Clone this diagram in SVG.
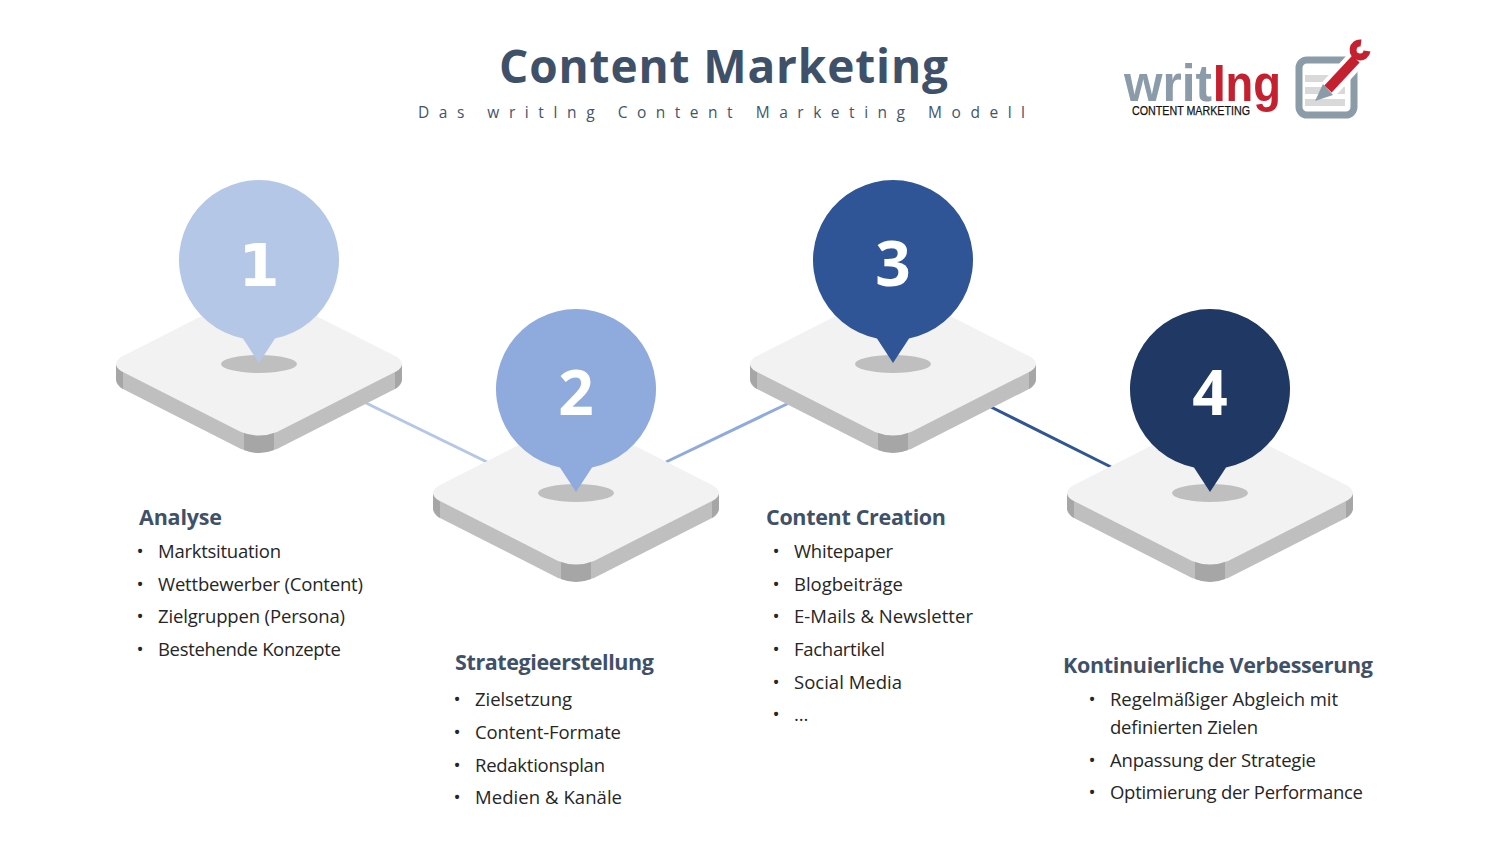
<svg xmlns="http://www.w3.org/2000/svg" width="1500" height="848" viewBox="0 0 1500 848">
<style>
text{font-family:"Open Sans","Noto Sans","DejaVu Sans",sans-serif}
.t{font-size:46px;font-weight:700;fill:#3f5169}
.s{font-size:15.5px;fill:#44546a}
.h{font-size:21.5px;font-weight:700;fill:#3f5169}
.i{font-size:18.5px;fill:#262626}
.b{font-size:19px;fill:#262626;text-anchor:middle}
.n{font-size:62px;font-weight:700;fill:#fff;text-anchor:middle}
.one{font-family:"DejaVu Sans",sans-serif;font-size:59px}
.top{fill:#f2f2f2}.side{fill:#bfbfbf}.corner{fill:#a6a6a6}.spot{fill:#bfbfbf}
.logo{font-family:"Liberation Sans",Arial,sans-serif;font-weight:700}
.logo2{font-family:"Liberation Sans",Arial,sans-serif;font-weight:400;font-size:12.5px;fill:#111;stroke:#111;stroke-width:.25px}
</style>
<defs>
<g id="plate">
<path class="side" d="M-143,0V15Q-143,20 -138,24L-18,85Q0,92 18,85L138,24Q143,20 143,15V0Z"/>
<path class="corner" d="M-143,0V15Q-143,20 -136,25V8ZM143,0V15Q143,20 136,25V8ZM-15,60V86Q0,92 15,86V60Z"/>
<path class="top" d="M-138,-7L-18,-68Q0,-75 18,-68L138,-7Q148,0 138,7L18,68Q0,75 -18,68L-138,7Q-148,0 -138,-7Z"/>
<ellipse class="spot" cx="0" cy="0" rx="38" ry="9"/>
</g>
<path id="pin" d="M-16,-25.6A80,80 0 1 1 16,-25.6L0,-1Z"/>
</defs>
<g id="connectors" fill="none" stroke-width="3">
<path d="M366,403L487,462" stroke="#b4c7e7"/>
<path d="M666,462L789,403" stroke="#8faadc"/>
<path d="M991,407L1111,467" stroke="#2f5597"/>
</g>
<g id="title">
<text class="t" x="499" y="83" textLength="449" lengthAdjust="spacing">Content Marketing</text>
<text class="s" x="418" y="118" textLength="607" lengthAdjust="spacing">Das  writIng  Content  Marketing  Modell</text>
</g>
<g id="logo">
<text class="logo" x="1124" y="101" font-size="52" fill="#8b9ba9" textLength="88" lengthAdjust="spacingAndGlyphs">writ</text>
<text class="logo" x="1213" y="101" font-size="52" fill="#c4202f" textLength="68" lengthAdjust="spacingAndGlyphs">Ing</text>
<text class="logo2" x="1132" y="115" textLength="118" lengthAdjust="spacingAndGlyphs">CONTENT MARKETING</text>
<rect x="1299" y="60" width="55" height="55" rx="8" fill="none" stroke="#8c9ba8" stroke-width="7"/>
<path d="M1305,75H1345V82H1305ZM1305,87H1345V94H1305ZM1305,99H1345V106H1305Z" fill="#d9d9d9"/>
<path d="M1328,90L1360,55" stroke="#fff" stroke-width="19" fill="none"/>
<path d="M1315,101L1323,84L1333,95Z" fill="#8c9ba8"/>
<path d="M1328,89L1356,59" stroke="#c4202f" stroke-width="10" fill="none"/>
<path d="M1361,43A7,7 0 1 0 1367,51" stroke="#c4202f" stroke-width="7" fill="none"/>
</g>
<g id="node1"><use href="#plate" x="259" y="364"/><use href="#pin" x="259" y="364" fill="#b4c7e7"/><text class="n one" x="259" y="286">1</text>
<text class="h" x="139" y="525" textLength="83">Analyse</text>
<text class="b" x="140" y="558">•</text><text class="i" x="158" y="558" textLength="123">Marktsituation</text>
<text class="b" x="140" y="591">•</text><text class="i" x="158" y="591" textLength="205">Wettbewerber (Content)</text>
<text class="b" x="140" y="623">•</text><text class="i" x="158" y="623" textLength="187">Zielgruppen (Persona)</text>
<text class="b" x="140" y="656">•</text><text class="i" x="158" y="656" textLength="183">Bestehende Konzepte</text></g>
<g id="node2"><use href="#plate" x="576" y="493"/><use href="#pin" x="576" y="493" fill="#8faadc"/><text class="n" x="576" y="415">2</text>
<text class="h" x="455" y="670" textLength="199">Strategieerstellung</text>
<text class="b" x="457" y="706">•</text><text class="i" x="475" y="706" textLength="97">Zielsetzung</text>
<text class="b" x="457" y="739">•</text><text class="i" x="475" y="739" textLength="146">Content-Formate</text>
<text class="b" x="457" y="772">•</text><text class="i" x="475" y="772" textLength="130">Redaktionsplan</text>
<text class="b" x="457" y="804">•</text><text class="i" x="475" y="804" textLength="147">Medien &amp; Kanäle</text></g>
<g id="node3"><use href="#plate" x="893" y="364"/><use href="#pin" x="893" y="364" fill="#2f5597"/><text class="n" x="893" y="286">3</text>
<text class="h" x="766" y="525" textLength="180">Content Creation</text>
<text class="b" x="776" y="558">•</text><text class="i" x="794" y="558" textLength="99">Whitepaper</text>
<text class="b" x="776" y="591">•</text><text class="i" x="794" y="591" textLength="109">Blogbeiträge</text>
<text class="b" x="776" y="623">•</text><text class="i" x="794" y="623" textLength="179">E-Mails &amp; Newsletter</text>
<text class="b" x="776" y="656">•</text><text class="i" x="794" y="656" textLength="91">Fachartikel</text>
<text class="b" x="776" y="689">•</text><text class="i" x="794" y="689" textLength="108">Social Media</text>
<text class="b" x="776" y="721">•</text><text class="i" x="794" y="721">…</text></g>
<g id="node4"><use href="#plate" x="1210" y="493"/><use href="#pin" x="1210" y="493" fill="#1f3864"/><text class="n" x="1210" y="415">4</text>
<text class="h" x="1063" y="673" textLength="310">Kontinuierliche Verbesserung</text>
<text class="b" x="1092" y="706">•</text><text class="i" x="1110" y="706" textLength="228">Regelmäßiger Abgleich mit</text>
<text class="i" x="1110" y="734" textLength="148">definierten Zielen</text>
<text class="b" x="1092" y="767">•</text><text class="i" x="1110" y="767" textLength="206">Anpassung der Strategie</text>
<text class="b" x="1092" y="799">•</text><text class="i" x="1110" y="799" textLength="253">Optimierung der Performance</text></g>
</svg>
